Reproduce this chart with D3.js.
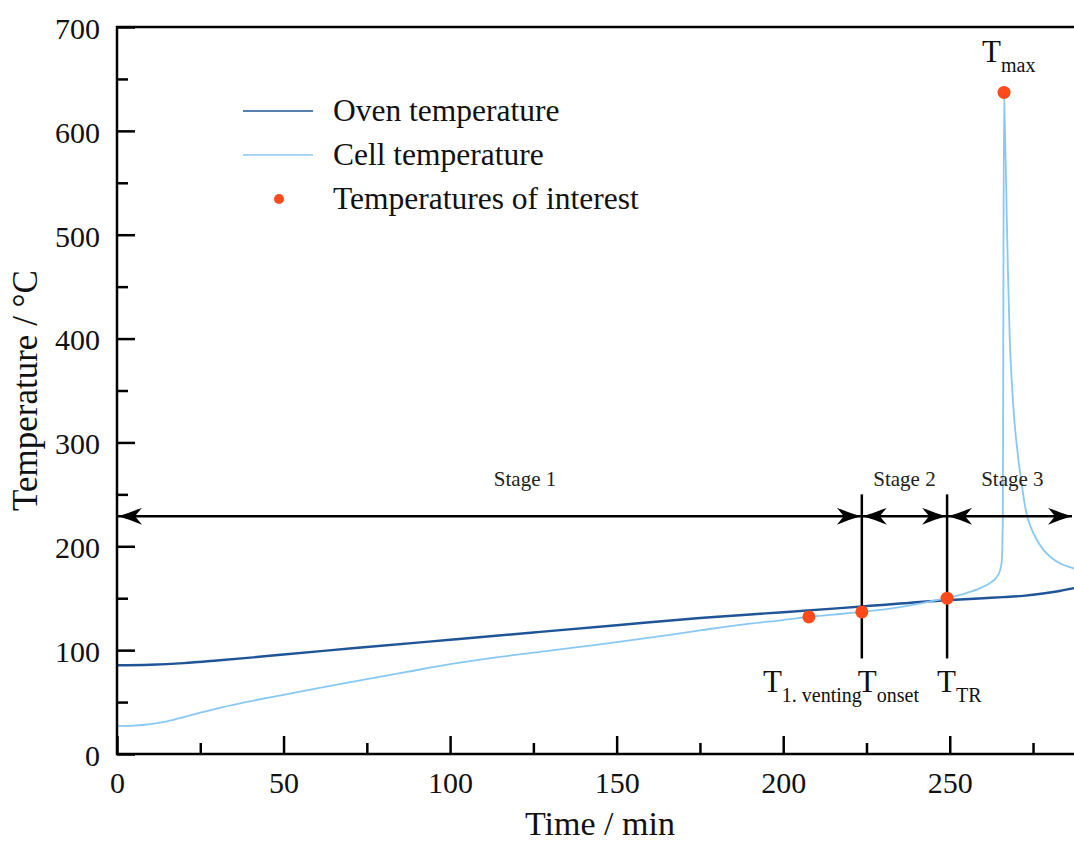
<!DOCTYPE html>
<html lang="en">

<head>
    <title>Oven and cell temperature</title>
    <meta charset="utf-8">
    <script src="https://d3js.org/d3.v7.min.js"></script>
    <style>
        body { margin: 0; background: #fff; }
        svg { display: block; font-family: "Liberation Serif", "Times New Roman", serif; }
    </style>
</head>

<body>
    <div id="container1"></div>
    <script>
        // Data
        const ovenTime = [0, 10, 20, 30, 40, 50, 62, 75, 100, 125, 150, 175, 200, 223.6, 249, 260, 266, 272, 278, 283, 287, 290];
        const ovenTemp = [85.5, 86, 87.5, 90, 92.8, 95.8, 99.3, 103, 110, 117, 124, 131, 136.5, 142, 148, 150, 151, 152.3, 154.5, 157, 159.5, 161];

        const cellTime = [0, 5, 10, 15, 20, 25, 30, 37, 50, 62, 75, 87, 100, 115, 130, 145, 160, 175, 190, 200, 207.7,
            215, 223.6, 235, 243.5, 249, 255, 259, 262, 264, 265, 265.6, 265.9, 266.0, 266.1, 266.3,
            266.5, 266.8, 267.1, 267.5, 268, 268.6, 269.3, 270.3, 271.5, 273, 274.5, 276, 278, 280.5, 283.5, 287, 290];
        const cellTemp = [27, 27.4, 28.8, 31.5, 35.5, 39.8, 43.8, 48.8, 57, 64.5, 72, 79, 86.5, 93.5, 99.5, 105.5, 112, 119, 125.5, 129, 132,
            134.2, 136.8, 141.5, 146.5, 150, 155, 159.5, 164.5, 170, 176, 185, 220, 300, 450, 637,
            610, 570, 520, 460, 400, 360, 325, 292, 262, 232, 217, 207, 197, 189, 183, 179, 176];

        const poiTime = [207.7, 223.6, 249.2, 266.3];
        const poiTemp = [132, 136.8, 150, 637];
        const poiSub = ["1. venting", "onset", "TR", "max"];
        const poiLabelTime = [193.9, 222.4, 246.2, 259.7];
        const poiLabelTemp = [59.7, 59.7, 59.7, 666];

        const stageBounds = [0, 223.6, 249.2, 287];
        const stageNames = ["Stage 1", "Stage 2", "Stage 3"];
        const stageLabelTime = [122.5, 236.4, 268.8];
        const stageArrowTemp = 229;
        const stageLabelTemp = 258;
        const markerLines = [223.6, 249.2];
        const markerLineTemps = [92, 250];

        const xTicks = [0, 50, 100, 150, 200, 250];
        const xMinor = [25, 75, 125, 175, 225, 275];
        const yTicks = [0, 100, 200, 300, 400, 500, 600, 700];
        const yMinor = [50, 150, 250, 350, 450, 550, 650];

        const legendNames = ["Oven temperature", "Cell temperature", "Temperatures of interest"];

        // Chart dimensions
        const width = 1074, height = 843;
        const margin = { top: 27, left: 117, bottom: 89 };
        const plotRight = 1083;

        const ovenColor = "#1f5597", cellColor = "#8ac8f4", dotColor = "#ff4a1c";

        const svg = d3.select("#container1").append("svg")
            .attr("width", width)
            .attr("height", height);

        // Scales
        const x = d3.scaleLinear().domain([0, 290]).range([margin.left, plotRight]);
        const y = d3.scaleLinear().domain([0, 700]).range([height - margin.bottom, margin.top]);

        svg.append("clipPath").attr("id", "clip")
            .append("rect")
            .attr("x", x(0)).attr("y", y(700))
            .attr("width", x(290) - x(0)).attr("height", y(0) - y(700));

        // Lines
        const line = d3.line().curve(d3.curveMonotoneX);
        const plot = svg.append("g").attr("clip-path", "url(#clip)");

        plot.append("path")
            .attr("d", line(ovenTime.map((t, i) => [x(t), y(ovenTemp[i])])))
            .attr("fill", "none")
            .attr("stroke", ovenColor)
            .attr("stroke-width", 2.4);

        plot.append("path")
            .attr("d", line(cellTime.map((t, i) => [x(t), y(cellTemp[i])])))
            .attr("fill", "none")
            .attr("stroke", cellColor)
            .attr("stroke-width", 1.8);

        // Stage arrows
        const defs = svg.append("defs");
        defs.append("marker")
            .attr("id", "arrow")
            .attr("markerUnits", "userSpaceOnUse")
            .attr("viewBox", "-26 -10 28 20")
            .attr("markerWidth", 28)
            .attr("markerHeight", 20)
            .attr("refX", 0).attr("refY", 0)
            .attr("orient", "auto-start-reverse")
            .append("path")
            .attr("d", "M0,0 Q-11,-3 -24,-8.5 L-17,0 L-24,8.5 Q-11,3 0,0 Z")
            .attr("fill", "#000");

        svg.append("g").selectAll("line")
            .data(stageNames)
            .join("line")
            .attr("x1", (d, i) => x(stageBounds[i]) + 1)
            .attr("x2", (d, i) => x(stageBounds[i + 1]) - 1)
            .attr("y1", y(stageArrowTemp))
            .attr("y2", y(stageArrowTemp))
            .attr("stroke", "#000")
            .attr("stroke-width", 2.5)
            .attr("marker-start", "url(#arrow)")
            .attr("marker-end", "url(#arrow)");

        svg.append("g").selectAll("text")
            .data(stageNames)
            .join("text")
            .attr("x", (d, i) => x(stageLabelTime[i]))
            .attr("y", y(stageLabelTemp))
            .attr("text-anchor", "middle")
            .attr("font-size", 21)
            .attr("fill", "#222")
            .text(d => d);

        svg.append("g").selectAll("line")
            .data(markerLines)
            .join("line")
            .attr("x1", d => x(d)).attr("x2", d => x(d))
            .attr("y1", y(markerLineTemps[0]))
            .attr("y2", y(markerLineTemps[1]))
            .attr("stroke", "#000")
            .attr("stroke-width", 2.5);

        // Points of interest
        svg.append("g").selectAll("circle")
            .data(poiTime)
            .join("circle")
            .attr("cx", d => x(d))
            .attr("cy", (d, i) => y(poiTemp[i]))
            .attr("r", 6.5)
            .attr("fill", dotColor);

        const labels = svg.append("g").selectAll("text")
            .data(poiSub)
            .join("text")
            .attr("x", (d, i) => x(poiLabelTime[i]))
            .attr("y", (d, i) => y(poiLabelTemp[i]))
            .attr("font-size", 31)
            .attr("fill", "#111");
        labels.append("tspan").text("T");
        labels.append("tspan")
            .attr("font-size", 20)
            .attr("dy", 10)
            .text(d => d);

        // Axes
        const axisStyle = g => {
            g.select(".domain").remove();
            g.selectAll(".tick line").attr("stroke", "#000").attr("stroke-width", 2.5);
            g.selectAll(".tick text").attr("fill", "#111").attr("font-size", 30)
                .attr("font-family", "Liberation Serif, Times New Roman, serif");
        };

        svg.append("g")
            .attr("transform", `translate(${x(0)},0)`)
            .call(d3.axisLeft(y).tickValues(yTicks).tickSizeInner(-18).tickSizeOuter(0).tickPadding(17))
            .call(axisStyle)
            .call(g => g.selectAll(".tick text").attr("dy", "0.38em"));

        svg.append("g")
            .attr("transform", `translate(${x(0)},0)`)
            .call(d3.axisLeft(y).tickValues(yMinor).tickSizeInner(-11).tickSizeOuter(0).tickFormat(""))
            .call(axisStyle);

        svg.append("g")
            .attr("transform", `translate(0,${y(0)})`)
            .call(d3.axisBottom(x).tickValues(xTicks).tickSizeInner(-18).tickSizeOuter(0).tickPadding(18))
            .call(axisStyle);

        svg.append("g")
            .attr("transform", `translate(0,${y(0)})`)
            .call(d3.axisBottom(x).tickValues(xMinor).tickSizeInner(-11).tickSizeOuter(0).tickFormat(""))
            .call(axisStyle);

        // Frame
        svg.append("rect")
            .attr("x", x(0)).attr("y", y(700))
            .attr("width", x(290) - x(0)).attr("height", y(0) - y(700))
            .attr("fill", "none")
            .attr("stroke", "#000")
            .attr("stroke-width", 2.5);

        // Axis titles
        svg.append("text")
            .attr("x", (x(0) + x(290)) / 2)
            .attr("y", 835)
            .attr("text-anchor", "middle")
            .attr("font-size", 34)
            .attr("fill", "#111")
            .text("Time / min");

        svg.append("text")
            .attr("transform", `translate(37,${(y(0) + y(700)) / 2}) rotate(-90)`)
            .attr("text-anchor", "middle")
            .attr("font-size", 35)
            .attr("fill", "#111")
            .text("Temperature / °C");

        // Legend
        const legend = svg.append("g").attr("transform", "translate(243,111)");
        const legendRow = 44;
        legend.append("line")
            .attr("x1", 0).attr("x2", 70).attr("y1", 0).attr("y2", 0)
            .attr("stroke", ovenColor).attr("stroke-width", 1.6);
        legend.append("line")
            .attr("x1", 0).attr("x2", 70).attr("y1", legendRow).attr("y2", legendRow)
            .attr("stroke", cellColor).attr("stroke-width", 1.6);
        legend.append("circle")
            .attr("cx", 36).attr("cy", legendRow * 2).attr("r", 5)
            .attr("fill", dotColor);
        legend.selectAll("text")
            .data(legendNames)
            .join("text")
            .attr("x", 90)
            .attr("y", (d, i) => i * legendRow + 10)
            .attr("font-size", 31.5)
            .attr("fill", "#111")
            .text(d => d);
    </script>
</body>

</html>
